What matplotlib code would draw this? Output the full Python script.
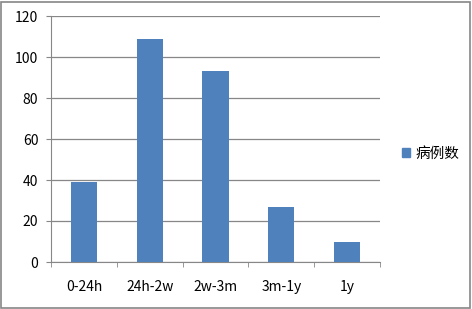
import matplotlib
matplotlib.use("Agg")
from matplotlib import pyplot as plt
import matplotlib.patches as mpatches

categories = ["0-24h", "24h-2w", "2w-3m", "3m-1y", "1y"]
counts = [39, 109, 93, 27, 10]
series_name = "病例数"

plt.rcParams['font.family'] = ['Noto Sans CJK SC', 'DejaVu Sans']

fig = plt.figure(figsize=(4.72, 3.09), dpi=100)
ax = fig.add_axes([51 / 472, 1 - 262 / 309, (380 - 51) / 472, (262 - 16) / 309])

bar_color = "#4F81BD"
grid_color = "#878787"
x = range(len(categories))
ax.bar(x, counts, width=0.4, color=bar_color, label=series_name, zorder=3)

ax.set_xlim(-0.5, len(categories) - 0.5)
ax.set_ylim(0, 120)
ax.set_yticks(range(0, 121, 20))
ax.yaxis.grid(True, color=grid_color, linewidth=0.9, zorder=0)

ax.set_xticks(x)
ax.set_xticklabels(categories)
ax.set_xticks([i - 0.5 for i in range(len(categories) + 1)], minor=True)
ax.tick_params(axis="x", which="major", length=0, pad=13, labelsize=10)
ax.tick_params(axis="x", which="minor", length=3.6, color=grid_color, direction="out")
ax.tick_params(axis="y", length=3.6, color=grid_color, labelsize=10, pad=5.5)

for side in ["top", "right"]:
    ax.spines[side].set_visible(False)
ax.spines["left"].set_color(grid_color)
ax.spines["bottom"].set_color(grid_color)

handle = mpatches.Patch(color=bar_color, label=series_name)
fig.legend(handles=[handle], loc="center left", bbox_to_anchor=(389 / 472, 1 - 154 / 309),
           frameon=False, fontsize=10.5, handlelength=0.55, handleheight=0.55, handletextpad=0.35)

border = mpatches.Rectangle((0.002, 0.003), 0.994, 0.992, transform=fig.transFigure,
                            fill=False, edgecolor="#868686", linewidth=1.2)
fig.patches.append(border)

fig.savefig("out.png", dpi=100)
